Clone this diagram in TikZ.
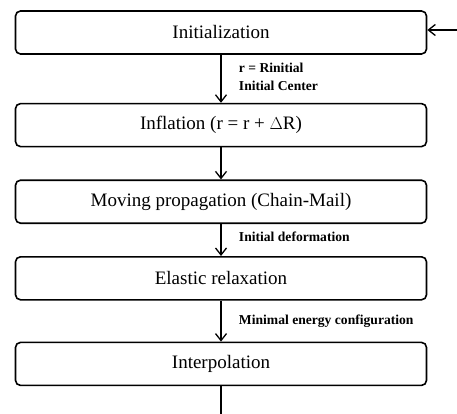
\documentclass[tikz,border=0pt]{standalone}
\usepackage{fontspec}
\setmainfont{Liberation Serif}
\usepackage{tikz}
\usetikzlibrary{arrows.meta,positioning}

\tikzset{stepbox/.style={draw,line width=1.6pt,rounded corners=5pt,
                         minimum width=411pt,minimum height=43pt,inner sep=0pt,
                         font=\fontsize{19}{22}\selectfont},
         lbl/.style={right=14pt,align=left,
                     font=\fontsize{13.6}{18}\selectfont\bfseries}}

\begin{document}
\begin{tikzpicture}[->,>={Straight Barb[length=7pt,width=11pt]},line width=1.3pt,
                    node distance=32pt]

 \useasboundingbox (0pt,0pt) rectangle (457pt,-414pt);

 \node[stepbox] (A) at (221pt,-32.5pt) {Initialization};
  \node[stepbox] (B) [below=48pt of A] {Inflation (r = r + $\Delta$R)};
  \node[stepbox] (C) [below=of B]      {Moving propagation (Chain-Mail)};
  \node[stepbox] (D) [below=of C]      {Elastic relaxation};
  \node[stepbox] (E) [below=41pt of D] {Interpolation};

 \coordinate (in)  at (457pt,-30pt);
 \coordinate (out) at (221pt,-414pt);

  \path (A) edge node[lbl,pos=0.45] {r = Rinitial\\Initial Center} (B)
        (B) edge (C)
        (C) edge node[lbl,pos=0.4] {Initial deformation} (D)
        (D) edge node[lbl] {Minimal energy configuration} (E)
        (E) edge [-] (out)
        (in) edge (in -| A.east)
                ;

\end{tikzpicture}
\end{document}
